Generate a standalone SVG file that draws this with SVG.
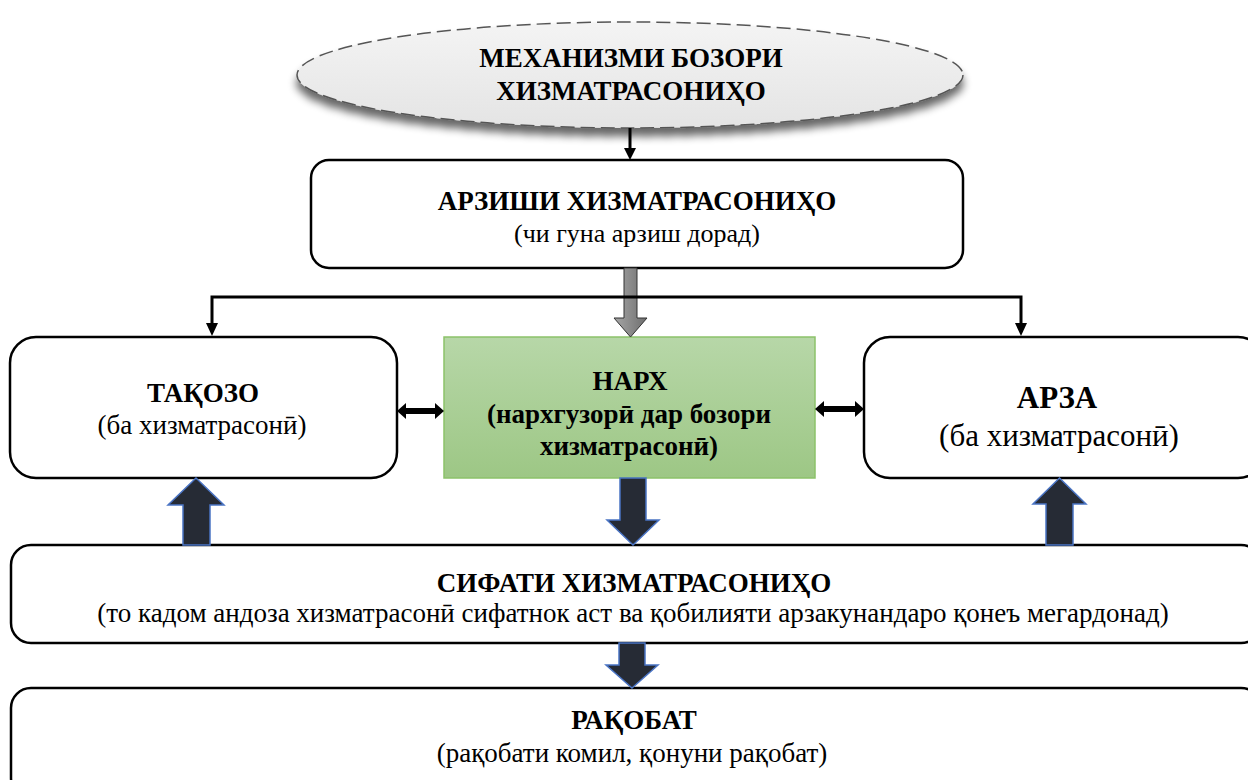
<svg xmlns="http://www.w3.org/2000/svg" width="1248" height="780" viewBox="0 0 1248 780">
<defs>
<linearGradient id="gEll" x1="0" y1="0" x2="0" y2="1"><stop offset="0" stop-color="#f4f4f4"/><stop offset="1" stop-color="#e4e4e4"/></linearGradient>
<linearGradient id="gGreen" x1="0" y1="0" x2="0" y2="1"><stop offset="0" stop-color="#b7d7a8"/><stop offset="1" stop-color="#9dc785"/></linearGradient>
<linearGradient id="gGrey" x1="0" y1="0" x2="1" y2="0"><stop offset="0" stop-color="#a6a6a6"/><stop offset="0.5" stop-color="#8a8a8a"/><stop offset="1" stop-color="#6e6e6e"/></linearGradient>
<filter id="sh" x="-10%" y="-30%" width="120%" height="170%"><feGaussianBlur in="SourceAlpha" stdDeviation="4"/><feOffset dx="0" dy="8"/><feComponentTransfer><feFuncA type="linear" slope="0.6"/></feComponentTransfer><feMerge><feMergeNode/><feMergeNode in="SourceGraphic"/></feMerge></filter>
</defs>
<style>
.box{fill:#fff;stroke:#000;stroke-width:2.5}
.t{font-family:"Liberation Serif","Times New Roman",serif;fill:#000;text-anchor:middle;font-size:27px}
.b{font-weight:bold}
.blk{fill:#262b35;stroke:#4a74c4;stroke-width:1.5}
.ln{stroke:#000;stroke-width:3;fill:none}
</style>
<rect width="1248" height="780" fill="#fff"/>
<g id="node-mechanism">
<ellipse cx="630" cy="75" rx="333" ry="53" fill="url(#gEll)" stroke="#555" stroke-width="1.5" stroke-dasharray="14,6" filter="url(#sh)"/>
<text class="t b" x="631" y="67">МЕХАНИЗМИ БОЗОРИ</text>
<text class="t b" x="631" y="100">ХИЗМАТРАСОНИҲО</text>
</g>
<g id="node-arzish">
<rect class="box" x="311" y="160" width="652" height="108" rx="18"/>
<text class="t b" x="637" y="210">АРЗИШИ ХИЗМАТРАСОНИҲО</text>
<text class="t" x="637" y="242" style="font-size:26px">(чи гуна арзиш дорад)</text>
</g>
<g id="node-takozo">
<rect class="box" x="10" y="337" width="387" height="141" rx="26"/>
<text class="t b" x="203" y="402">ТАҚОЗО</text>
<text class="t" x="202" y="434">(ба хизматрасонӣ)</text>
</g>
<g id="node-narx">
<rect x="444" y="337" width="371" height="141" fill="url(#gGreen)" stroke="#8cc26a" stroke-width="1.5"/>
<text class="t b" x="630" y="390">НАРХ</text>
<text class="t b" x="629" y="423">(нархгузорӣ дар бозори</text>
<text class="t b" x="629" y="455">хизматрасонӣ)</text>
</g>
<g id="node-arza">
<rect class="box" x="864" y="337" width="400" height="141" rx="26"/>
<text class="t b" x="1057" y="408" style="font-size:31px">АРЗА</text>
<text class="t" x="1059" y="446" style="font-size:31px">(ба хизматрасонӣ)</text>
</g>
<g id="node-sifati">
<rect class="box" x="11" y="545" width="1250" height="98" rx="20"/>
<text class="t b" x="634" y="592">СИФАТИ ХИЗМАТРАСОНИҲО</text>
<text class="t" x="633" y="622">(то кадом андоза хизматрасонӣ сифатнок аст ва қобилияти арзакунандаро қонеъ мегардонад)</text>
</g>
<g id="node-rakobat">
<rect class="box" x="11" y="688" width="1250" height="110" rx="20"/>
<text class="t b" x="634" y="729">РАҚОБАТ</text>
<text class="t" x="632" y="762">(рақобати комил, қонуни рақобат)</text>
</g>
<g id="connectors">
<line class="ln" x1="630" y1="128" x2="630" y2="150" stroke-width="2.5"/>
<polygon points="624,148 636,148 630,160" fill="#000"/>
<polygon points="624,268 637,268 637,318 647,318 630.5,337 614,318 624,318" fill="url(#gGrey)" stroke="#333" stroke-width="1"/>
<polyline class="ln" points="212,325 212,297 1021,297 1021,325"/>
<polygon points="206,323 218,323 212,336" fill="#000"/>
<polygon points="1015,323 1027,323 1021,336" fill="#000"/>
<path d="M397,411 L406,403 L406,408 L435,408 L435,403 L444,411 L435,419 L435,414 L406,414 L406,419 Z" fill="#000"/>
<path d="M815,409 L824,401 L824,406 L855,406 L855,401 L864,409 L855,417 L855,412 L824,412 L824,417 Z" fill="#000"/>
<polygon class="blk" points="183,545 183,505 168,505 196,478 224,505 210,505 210,545"/>
<polygon class="blk" points="620,478 646,478 646,520 659,520 633,545 607,520 620,520"/>
<polygon class="blk" points="1046,545 1046,504 1033,504 1059.5,478 1086,504 1073,504 1073,545"/>
<polygon class="blk" points="619,643 645,643 645,665 658,665 632,688 606,665 619,665"/>
</g>
</svg>
